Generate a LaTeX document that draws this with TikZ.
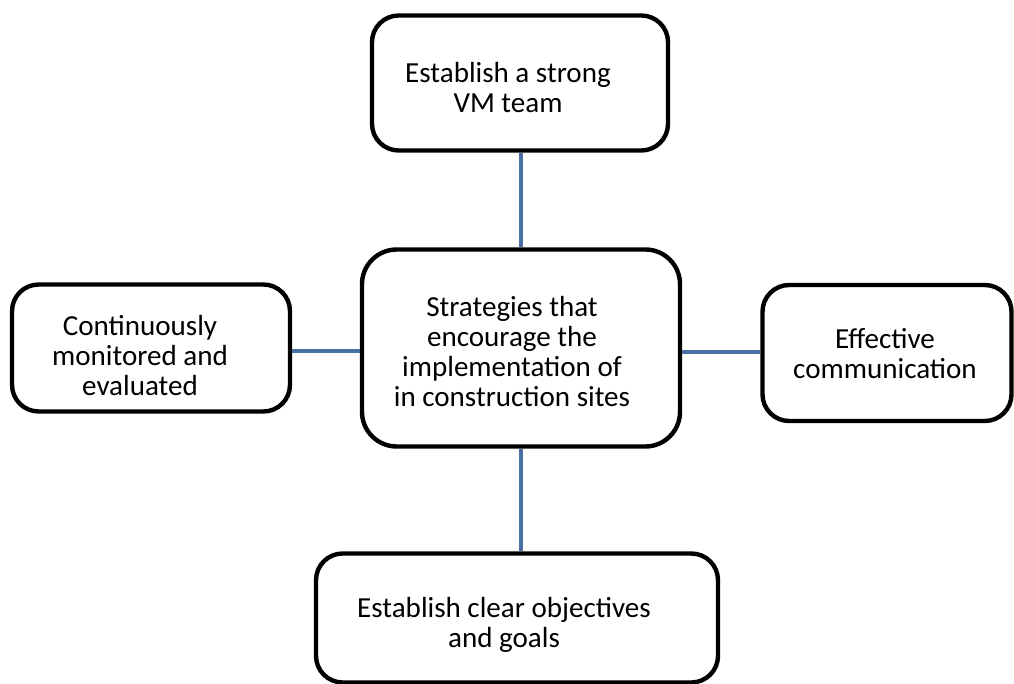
\documentclass[tikz,border=0pt]{standalone}
\usepackage{fontspec}
\setmainfont{Carlito}
\definecolor{linkblue}{RGB}{72,112,164}
\tikzset{
  box/.style={draw=black, line width=3.3pt, rounded corners=20pt, fill=white, inner sep=0pt},
  lbl/.style={align=center, font=\fontsize{21.8pt}{22.5pt}\selectfont, inner sep=0pt},
  link/.style={draw=linkblue, line width=3.6pt}
}
\begin{document}
\begin{tikzpicture}[x=0.75pt, y=-0.75pt]
  \useasboundingbox (0,0) rectangle (1014,684);

  % boxes (corner to corner, in pixel units)
  \node[box, minimum width=296*0.75pt, minimum height=135*0.75pt] (top)   at (520,83)  {};
  \node[box, minimum width=318*0.75pt, minimum height=197*0.75pt, rounded corners=26pt] (mid) at (521,348) {};
  \node[box, minimum width=278*0.75pt, minimum height=127*0.75pt] (left)  at (151,348) {};
  \node[box, minimum width=249*0.75pt, minimum height=136*0.75pt] (right) at (887,353) {};
  \node[box, minimum width=402*0.75pt, minimum height=129*0.75pt] (bot)   at (517,618) {};

  % labels
  \node[lbl] (topt)   at (508,88)  {Establish a strong\\VM team};
  \node[lbl] (midt)   at (512,352) {Strategies that\\encourage the\\implementation of\\in construction sites};
  \node[lbl] (leftt)  at (140,356) {Continuously\\monitored and\\evaluated};
  \node[lbl] (rightt) at (885,354) {Effective\\communication};
  \node[lbl] (bott)   at (504,625) {Establish clear objectives\\and goals};

  % connectors
  \draw[link] (top.south -| 521,0) -- (mid.north -| 521,0);
  \draw[link] (mid.south -| 521,0) -- (bot.north -| 521,0);
  \draw[link] (left.east |- 0,351) -- (mid.west |- 0,351);
  \draw[link] (mid.east |- 0,352) -- (right.west |- 0,352);
\end{tikzpicture}
\end{document}
